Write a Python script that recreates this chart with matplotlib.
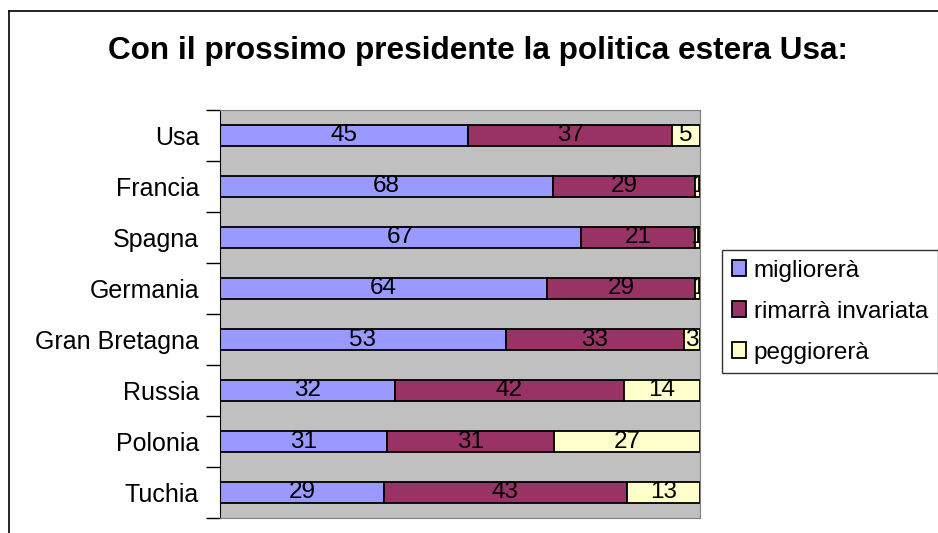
import numpy as np
import matplotlib.pyplot as plt
from matplotlib.lines import Line2D

countries = ["Usa", "Francia", "Spagna", "Germania", "Gran Bretagna", "Russia", "Polonia", "Tuchia"]
migliorera = [45, 68, 67, 64, 53, 32, 31, 29]
invariata = [37, 29, 21, 29, 33, 42, 31, 43]
peggiorera = [5, 1, 1, 1, 3, 14, 27, 13]

series_names = ["migliorerà", "rimarrà invariata", "peggiorerà"]
series_colors = ["#9999FF", "#993366", "#FFFFCC"]

plt.rcParams['font.family'] = ['Liberation Sans', 'DejaVu Sans']

W, H = 938, 533
fig = plt.figure(figsize=(W / 100, H / 100), dpi=100)
fig.patch.set_facecolor('white')

# outer chart frame (right and bottom edges fall off the canvas)
fig.add_artist(Line2D([8.5 / W, 8.5 / W], [0, 1 - 10.5 / H], color='black', lw=1.2))
fig.add_artist(Line2D([8.5 / W, 1], [1 - 10.5 / H, 1 - 10.5 / H], color='black', lw=1.2))

fig.text(478 / W, 1 - 51 / H, "Con il prossimo presidente la politica estera Usa:",
         ha='center', va='center', fontsize=22.7, fontweight='bold')

ax = fig.add_axes([220 / W, 15 / H, 480 / W, 408 / H])
ax.set_facecolor('#C0C0C0')

values = np.array([migliorera, invariata, peggiorera], dtype=float)
totals = values.sum(axis=0)
pct = values / totals * 100

y = np.arange(len(countries))
left = np.zeros(len(countries))
handles = []
for i in range(3):
    bars = ax.barh(y, pct[i], left=left, height=0.43, color=series_colors[i],
                   edgecolor='black', linewidth=1.3, label=series_names[i])
    handles.append(bars)
    for j in range(len(countries)):
        ax.text(left[j] + pct[i][j] / 2, y[j], str(int(values[i][j])),
                ha='center', va='center', fontsize=17.5, color='black', clip_on=True)
    left += pct[i]

ax.set_xlim(0, 100)
ax.set_ylim(len(countries) - 0.5, -0.5)
ax.set_xticks([])
ax.set_yticks(y)
ax.set_yticklabels(countries, fontsize=18)
ax.tick_params(axis='y', which='major', length=0, pad=15)
ax.set_yticks(np.arange(-0.5, len(countries), 1), minor=True)
ax.tick_params(axis='y', which='minor', length=10, width=1, color='black')

ax.spines['left'].set_color('black')
ax.spines['bottom'].set_color('#808080')
ax.spines['top'].set_color('#808080')
ax.spines['right'].set_color('#808080')

leg = fig.legend(handles=handles, labels=series_names, loc='upper left',
                 bbox_to_anchor=(722 / W, 1 - 250 / H), fontsize=17.5,
                 frameon=True, fancybox=False, handlelength=0.6, handleheight=0.6,
                 handletextpad=0.3, labelspacing=0.78, borderpad=0.4, borderaxespad=0)
leg.get_frame().set_edgecolor('black')
leg.get_frame().set_linewidth(1.0)

fig.savefig('out.png', dpi=100)
